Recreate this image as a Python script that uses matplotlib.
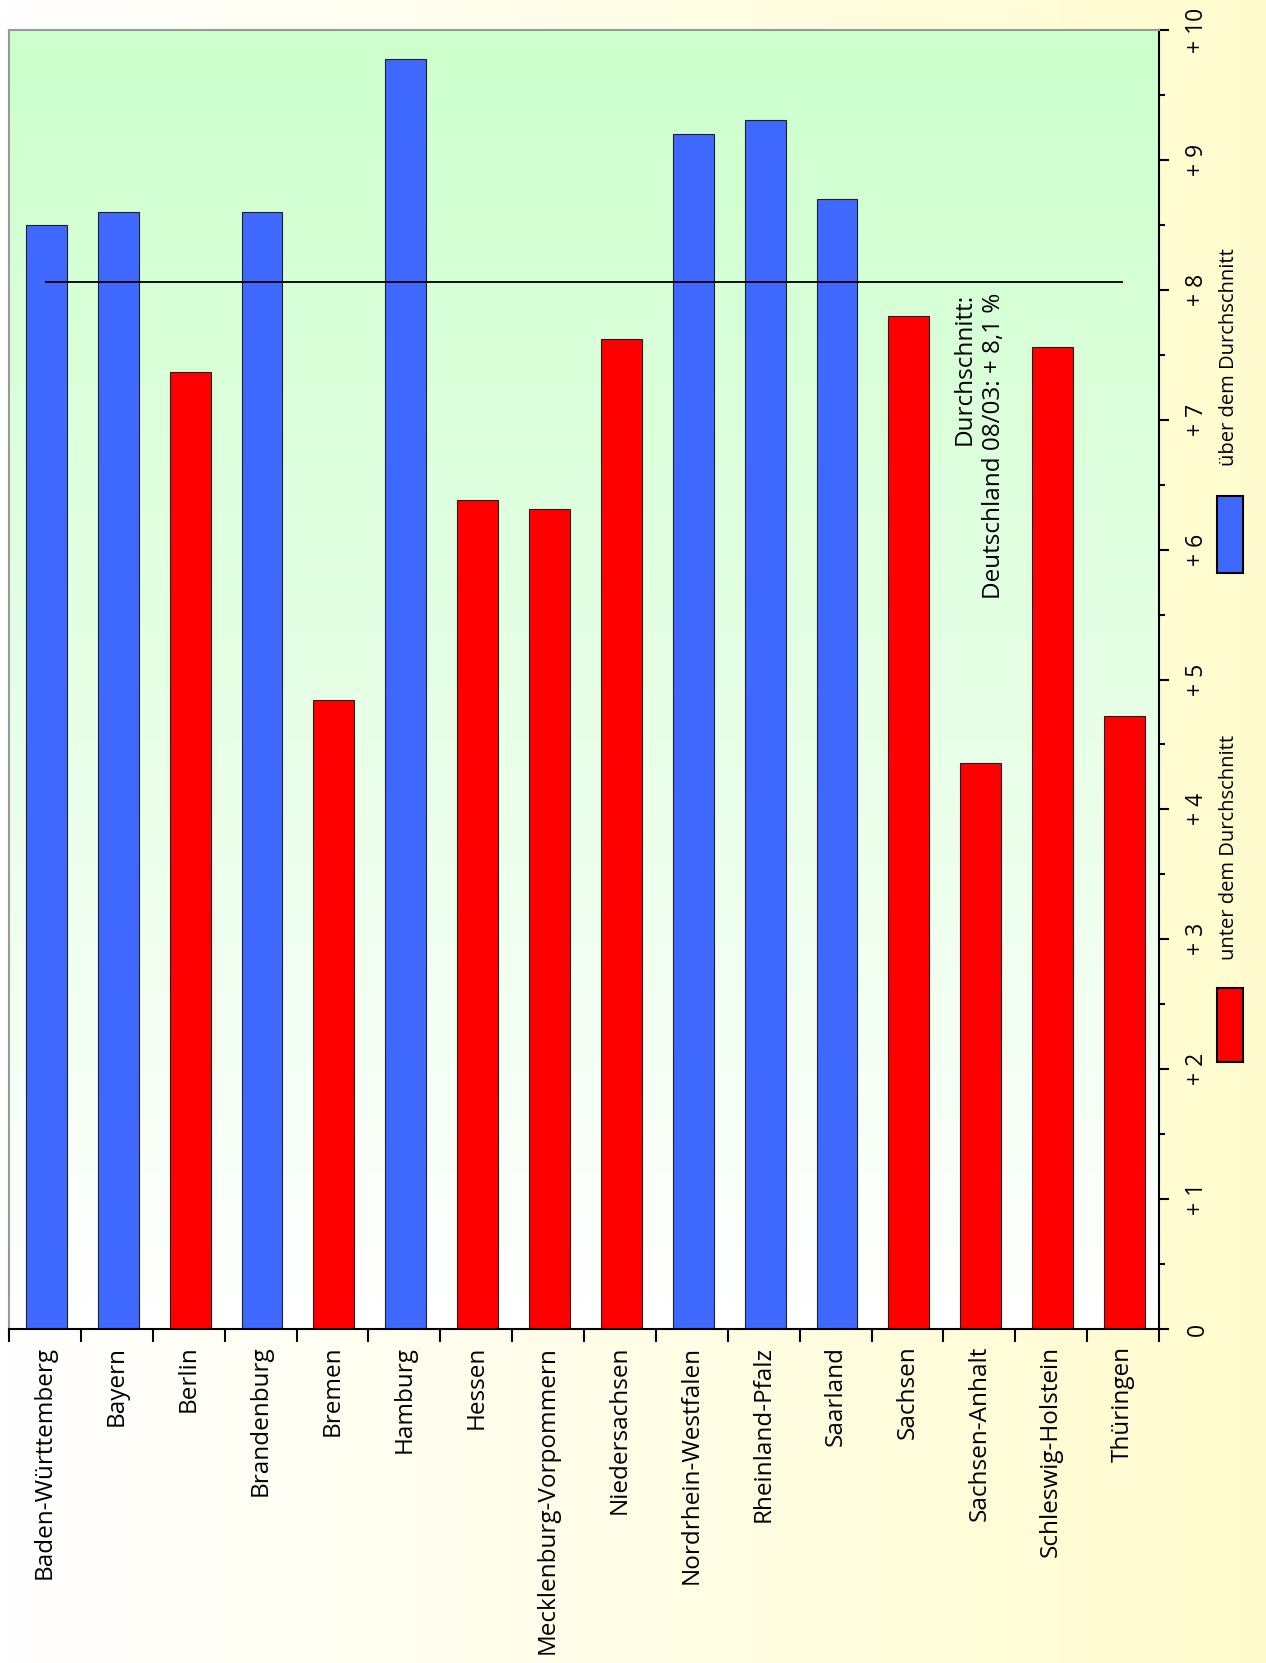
import numpy as np
import matplotlib
matplotlib.use("Agg")
import matplotlib.pyplot as plt
from matplotlib.patches import Rectangle

plt.rcParams['font.family'] = ['Open Sans', 'DejaVu Sans']

# Daten
laender = ['Baden-Württemberg', 'Bayern', 'Berlin', 'Brandenburg', 'Bremen',
           'Hamburg', 'Hessen', 'Mecklenburg-Vorpommern', 'Niedersachsen',
           'Nordrhein-Westfalen', 'Rheinland-Pfalz', 'Saarland', 'Sachsen',
           'Sachsen-Anhalt', 'Schleswig-Holstein', 'Thüringen']
werte = [8.50, 8.60, 7.37, 8.60, 4.84, 9.78, 6.38, 6.31, 7.62,
         9.20, 9.31, 8.70, 7.80, 4.36, 7.56, 4.72]
durchschnitt = 8.06
tick_werte = [0, 1, 2, 3, 4, 5, 6, 7, 8, 9, 10]
tick_texte = ['0', '+ 1', '+ 2', '+ 3', '+ 4', '+ 5', '+ 6', '+ 7', '+ 8', '+ 9', '+ 10']

blau = '#3F68FF'
rot = '#FF0000'

W, H = 1266, 1663
fig = plt.figure(figsize=(W / 100, H / 100), dpi=100)

# Hintergrund (weiss -> gelb)
bg = fig.add_axes([0, 0, 1, 1], zorder=-10)
grad = np.linspace(0, 1, 256).reshape(1, -1)
c0 = np.array([1.0, 1.0, 1.0])
c1 = np.array([1.0, 0.988, 0.808])
img = c0[None, None, :] * (1 - grad[..., None]) + c1[None, None, :] * grad[..., None]
bg.imshow(img, aspect='auto', extent=[0, 1, 0, 1])
bg.set_axis_off()

ax = fig.add_axes([9 / W, 1 - 1329 / H, (1159 - 9) / W, (1329 - 30) / H])
ax.set_facecolor('none')

# Verlauf im Diagramm (gruen oben -> weiss unten)
g = np.linspace(0, 1, 256).reshape(-1, 1)
top = np.array([0.80, 1.0, 0.80])
bot = np.array([1.0, 1.0, 1.0])
img2 = top[None, None, :] * (1 - g[..., None]) + bot[None, None, :] * g[..., None]
ax.imshow(img2, aspect='auto', extent=[0, 1, 0, 1], transform=ax.transAxes, zorder=0)

x = np.arange(len(laender))
farben = [blau if w > durchschnitt else rot for w in werte]
ax.bar(x + 0.02, werte, width=0.57, color=farben, edgecolor='#202020', linewidth=0.8, zorder=2)
ax.hlines(durchschnitt, 0, len(laender) - 1, color='black', linewidth=1.3, zorder=3)

ax.set_xlim(-0.5, len(laender) - 0.5)
ax.set_ylim(0, 10)

ax.text(13.0, 7.98, 'Durchschnitt:\nDeutschland 08/03: + 8,1 %', rotation=90,
        ha='center', va='top', multialignment='right', fontsize=17.5, zorder=4,
        linespacing=1.35)

# Achsen
ax.yaxis.tick_right()
ax.set_yticks(tick_werte)
ax.set_yticklabels(tick_texte, rotation=90, va='center', fontsize=16.5)
ax.set_yticks(np.arange(0.5, 10, 1), minor=True)
ax.tick_params(axis='y', which='major', length=7, width=1.5, pad=12)
ax.tick_params(axis='y', which='minor', length=4, width=1.5)

ax.set_xticks(x)
ax.set_xticklabels(laender, rotation=90, ha='center', va='top', fontsize=17.5)
ax.set_xticks(np.arange(-0.5, len(laender)), minor=True)
ax.tick_params(axis='x', which='major', length=0, pad=12)
ax.tick_params(axis='x', which='minor', length=9, width=1.5)

for s in ['left', 'top']:
    ax.spines[s].set_color('#999999')
    ax.spines[s].set_linewidth(1.5)
for s in ['right', 'bottom']:
    ax.spines[s].set_color('black')
    ax.spines[s].set_linewidth(1.5)

# Legende
fig.add_artist(Rectangle((1217 / W, 1 - 1062 / H), 26 / W, 74 / H, transform=fig.transFigure,
                         facecolor=rot, edgecolor='black', linewidth=1.5))
fig.add_artist(Rectangle((1217 / W, 1 - 573 / H), 26 / W, 77 / H, transform=fig.transFigure,
                         facecolor=blau, edgecolor='black', linewidth=1.5))
fig.text(1229 / W, 1 - 960 / H, 'unter dem Durchschnitt', rotation=90, ha='center',
         va='bottom', fontsize=14.5)
fig.text(1229 / W, 1 - 466 / H, 'über dem Durchschnitt', rotation=90, ha='center',
         va='bottom', fontsize=14.5)

fig.savefig('out.png', dpi=100)
